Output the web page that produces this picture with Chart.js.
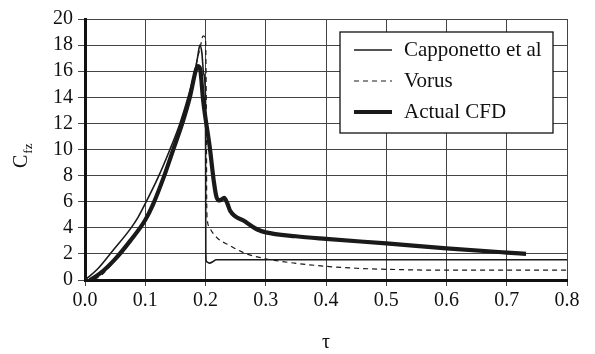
<!DOCTYPE html>
<html>
<head>
<meta charset="utf-8">
<script src="https://cdn.jsdelivr.net/npm/chart.js@4"></script>
<style>
html, body { margin: 0; padding: 0; background: #fff; }
</style>
</head>
<body>
<canvas id="myChart" width="595" height="354"></canvas>
<script>
// series names
const seriesNames = ['Capponetto et al', 'Vorus', 'Actual CFD']

// Capponetto et al (thin solid)
const cappTau = [0, 0.02, 0.047, 0.075, 0.088, 0.1, 0.1217, 0.141, 0.1576, 0.171, 0.1825, 0.187, 0.1907, 0.194, 0.197, 0.2, 0.2005, 0.202, 0.207, 0.212, 0.218, 0.8]
const cappCf = [0, 0.8, 2.3, 3.9, 4.8, 5.85, 7.9, 10, 12, 14, 16, 17.1, 18.0, 17.4, 15.8, 14, 2, 1.4, 1.29, 1.4, 1.55, 1.55]

// Vorus (dashed)
const vorusTau = [0, 0.02, 0.05, 0.075, 0.1, 0.12, 0.14, 0.16, 0.175, 0.185, 0.192, 0.196, 0.2, 0.2015, 0.202, 0.203, 0.207, 0.22, 0.238, 0.265, 0.3, 0.348, 0.4, 0.45, 0.5, 0.6, 0.7, 0.8]
const vorusCf = [0, 0.15, 1.5, 2.9, 4.7, 6.6, 9.0, 12.0, 14.6, 16.6, 18.0, 18.7, 18.5, 12, 6, 4.6, 4.0, 3.2, 2.7, 2.06, 1.63, 1.29, 1.05, 0.9, 0.82, 0.75, 0.75, 0.76]

// Actual CFD (thick solid)
const cfdTau = [0.008, 0.025, 0.05, 0.075, 0.1, 0.113, 0.1316, 0.1465, 0.1614, 0.174, 0.1835, 0.187, 0.191, 0.196, 0.207, 0.214, 0.218, 0.222, 0.226, 0.231, 0.236, 0.241, 0.265, 0.287, 0.3, 0.35, 0.4, 0.5, 0.6, 0.7, 0.732]
const cfdCf = [0, 0.5, 1.6, 3.0, 4.6, 5.8, 8, 10, 12, 14, 16, 16.4, 16.2, 13.8, 10.2, 7.5, 6.4, 6.1, 6.15, 6.3, 5.9, 5.3, 4.5, 3.85, 3.65, 3.35, 3.15, 2.8, 2.43, 2.1, 2.0]

const toPts = (xs, ys) => xs.map((t, i) => ({ x: t, y: ys[i] }))

const serif = '"Liberation Serif", "DejaVu Serif", serif'

const extras = {
    id: 'extras',
    afterDatasetsDraw(chart) {
        const ctx = chart.ctx
        const a = chart.chartArea
        ctx.save()
        // legend box
        const bx = a.left + 255, by = a.top + 13, bw = 213, bh = 101
        ctx.fillStyle = '#fff'
        ctx.fillRect(bx, by, bw, bh)
        ctx.strokeStyle = '#111'
        ctx.lineWidth = 1.3
        ctx.strokeRect(bx, by, bw, bh)
        ctx.font = '21px ' + serif
        ctx.textBaseline = 'middle'
        ctx.textAlign = 'left'
        chart.data.datasets.forEach((ds, i) => {
            const yy = by + 18 + i * 31
            ctx.beginPath()
            ctx.strokeStyle = ds.borderColor
            ctx.lineWidth = ds.borderWidth
            ctx.setLineDash(ds.borderDash || [])
            ctx.moveTo(bx + 14, yy)
            ctx.lineTo(bx + 52, yy)
            ctx.stroke()
            ctx.setLineDash([])
            ctx.fillStyle = '#111'
            ctx.fillText(ds.label, bx + 64, yy)
        })
        // y title C_fz
        ctx.translate(27, 168)
        ctx.rotate(-Math.PI / 2)
        ctx.textBaseline = 'alphabetic'
        ctx.font = '20px ' + serif
        ctx.fillText('C', 0, 0)
        const w = ctx.measureText('C').width
        ctx.font = '13px ' + serif
        ctx.fillText('fz', w + 1, 5)
        ctx.restore()
        // x title
        ctx.save()
        ctx.font = '20px ' + serif
        ctx.fillStyle = '#111'
        ctx.textAlign = 'center'
        ctx.textBaseline = 'middle'
        ctx.fillText('τ', (a.left + a.right) / 2, 343)
        ctx.restore()
    }
}

const ctx = document.getElementById('myChart').getContext('2d')
const myChart = new Chart(ctx, {
    type: 'line',
    data: {
        datasets: [
            { label: seriesNames[0], data: toPts(cappTau, cappCf), borderColor: '#1a1a1a', borderWidth: 1.6 },
            { label: seriesNames[1], data: toPts(vorusTau, vorusCf), borderColor: '#1a1a1a', borderWidth: 1.2, borderDash: [5, 4] },
            { label: seriesNames[2], data: toPts(cfdTau, cfdCf), borderColor: '#1a1a1a', borderWidth: 4.2 }
        ]
    },
    options: {
        responsive: false,
        animation: false,
        elements: {
            point: { radius: 0 },
            line: { cubicInterpolationMode: 'monotone', fill: false }
        },
        layout: { padding: { left: 0, top: 19, right: 28, bottom: 0 } },
        plugins: { legend: { display: false }, tooltip: { enabled: false } },
        scales: {
            x: {
                type: 'linear',
                min: 0,
                max: 0.8,
                afterFit: s => { s.height = 74 },
                ticks: {
                    stepSize: 0.1,
                    autoSkip: false,
                    color: '#111',
                    padding: 3,
                    font: { family: serif, size: 20 },
                    callback: v => v.toFixed(1)
                },
                grid: { color: '#444', lineWidth: 1, tickLength: 6 },
                border: { color: '#111', width: 3 }
            },
            y: {
                min: 0,
                max: 20,
                afterFit: s => { s.width = 85 },
                ticks: {
                    stepSize: 2,
                    autoSkip: false,
                    color: '#111',
                    padding: 5,
                    font: { family: serif, size: 20 }
                },
                grid: { color: '#444', lineWidth: 1, tickLength: 7 },
                border: { color: '#111', width: 3 }
            }
        }
    },
    plugins: [extras]
})
</script>
</body>
</html>
